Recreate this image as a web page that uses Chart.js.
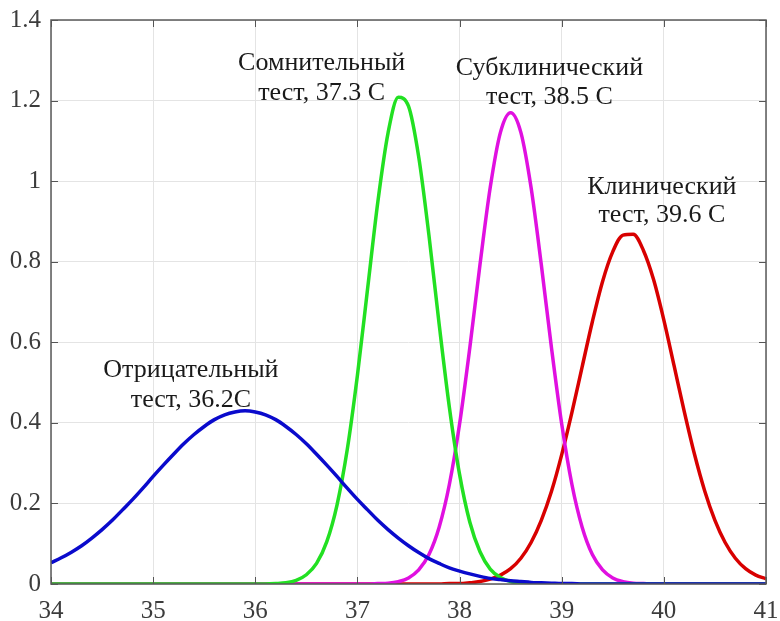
<!DOCTYPE html>
<html>
<head>
<meta charset="utf-8">
<script src="https://cdn.jsdelivr.net/npm/chart.js@4/dist/chart.umd.min.js"></script>
<style>
  html, body { margin: 0; padding: 0; background: #fff; }
</style>
</head>
<body>
<canvas id="chart" width="780" height="621"></canvas>
<script>
// temperature, C
const temps = [
  34.0, 34.1, 34.2, 34.3, 34.4, 34.5, 34.6, 34.7, 34.8, 34.9,
  35.0, 35.1, 35.2, 35.3, 35.4, 35.5, 35.6, 35.7, 35.8, 35.9,
  36.0, 36.1, 36.2, 36.3, 36.4, 36.5, 36.6, 36.7, 36.8, 36.9,
  37.0, 37.1, 37.2, 37.3, 37.4, 37.5, 37.6, 37.7, 37.8, 37.9,
  38.0, 38.1, 38.2, 38.3, 38.4, 38.5, 38.6, 38.7, 38.8, 38.9,
  39.0, 39.1, 39.2, 39.3, 39.4, 39.5, 39.6, 39.7, 39.8, 39.9,
  40.0, 40.1, 40.2, 40.3, 40.4, 40.5, 40.6, 40.7, 40.8, 40.9,
  41.0
];

const negative = [
  0.053, 0.065, 0.079, 0.095, 0.114, 0.135, 0.158, 0.184, 0.210, 0.238,
  0.267, 0.295, 0.322, 0.348, 0.371, 0.391, 0.408, 0.420, 0.427, 0.430,
  0.427, 0.420, 0.408, 0.391, 0.371, 0.348, 0.322, 0.295, 0.267, 0.238,
  0.210, 0.184, 0.158, 0.135, 0.114, 0.095, 0.078, 0.063, 0.051, 0.040,
  0.032, 0.025, 0.019, 0.014, 0.011, 0.008, 0.006, 0.004, 0.003, 0.002,
  0.001, 0.001, 0, 0, 0, 0, 0, 0, 0, 0,
  0, 0, 0, 0, 0, 0, 0, 0, 0, 0,
  0
];

const doubtful = [
  0, 0, 0, 0, 0, 0, 0, 0, 0, 0,
  0, 0, 0, 0, 0, 0, 0, 0, 0, 0,
  0, 0, 0.001, 0.003, 0.009, 0.023, 0.051, 0.105, 0.196, 0.333,
  0.518, 0.734, 0.949, 1.120, 1.208, 1.186, 1.060, 0.866, 0.645, 0.439,
  0.272, 0.154, 0.080, 0.037, 0.016, 0.006, 0.002, 0.001, 0, 0,
  0, 0, 0, 0, 0, 0, 0, 0, 0, 0,
  0, 0, 0, 0, 0, 0, 0, 0, 0, 0,
  0
];

const subclinical = [
  0, 0, 0, 0, 0, 0, 0, 0, 0, 0,
  0, 0, 0, 0, 0, 0, 0, 0, 0, 0,
  0, 0, 0, 0, 0, 0, 0, 0, 0, 0,
  0, 0, 0.001, 0.002, 0.006, 0.015, 0.035, 0.073, 0.141, 0.247,
  0.397, 0.586, 0.793, 0.984, 1.121, 1.170, 1.121, 0.984, 0.793, 0.586,
  0.397, 0.247, 0.141, 0.073, 0.035, 0.015, 0.006, 0.002, 0.001, 0,
  0, 0, 0, 0, 0, 0, 0, 0, 0, 0,
  0
];

const clinical = [
  0, 0, 0, 0, 0, 0, 0, 0, 0, 0,
  0, 0, 0, 0, 0, 0, 0, 0, 0, 0,
  0, 0, 0, 0, 0, 0, 0, 0, 0, 0,
  0, 0, 0, 0, 0, 0, 0, 0, 0, 0.001,
  0.001, 0.003, 0.006, 0.012, 0.022, 0.038, 0.064, 0.103, 0.158, 0.230,
  0.321, 0.426, 0.539, 0.651, 0.751, 0.825, 0.866, 0.868, 0.828, 0.755,
  0.655, 0.542, 0.428, 0.322, 0.231, 0.158, 0.103, 0.064, 0.038, 0.022,
  0.013
];

const xTicks = [34, 35, 36, 37, 38, 39, 40, 41];
const yTicks = [0, 0.2, 0.4, 0.6, 0.8, 1, 1.2, 1.4];

// text labels placed in data coordinates
const noteLines = [
  ["Отрицательный", "тест, 36.2С"],
  ["Сомнительный", "тест, 37.3 С"],
  ["Субклинический", "тест, 38.5 С"],
  ["Клинический", "тест, 39.6 С"]
];
const noteX = [35.37, 36.65, 38.88, 39.98];
const noteY = [0.531, 1.293, 1.281, 0.985];
const noteY2 = [0.457, 1.219, 1.209, 0.916];

const serif = "'Liberation Serif', 'DejaVu Serif', serif";

function toPoints(vals) {
    return vals.map((v, i) => ({ x: temps[i], y: v }));
}

function line(label, vals, color) {
    return {
        label: label,
        data: toPoints(vals),
        borderColor: color,
        borderWidth: 3.5,
        pointRadius: 0,
        fill: false,
        cubicInterpolationMode: "monotone"
    };
}

const boxPlugin = {
    id: "box",
    afterDatasetsDraw(chart) {
        const { ctx, chartArea: a, scales } = chart;
        ctx.save();
        // inward ticks on all four sides
        ctx.strokeStyle = "#555";
        ctx.lineWidth = 1;
        ctx.beginPath();
        xTicks.forEach((t) => {
            const px = Math.round(scales.x.getPixelForValue(t)) + 0.5;
            ctx.moveTo(px, a.bottom); ctx.lineTo(px, a.bottom - 7);
            ctx.moveTo(px, a.top); ctx.lineTo(px, a.top + 7);
        });
        yTicks.forEach((t) => {
            const py = Math.round(scales.y.getPixelForValue(t)) + 0.5;
            ctx.moveTo(a.left, py); ctx.lineTo(a.left + 7, py);
            ctx.moveTo(a.right, py); ctx.lineTo(a.right - 7, py);
        });
        ctx.stroke();
        ctx.lineWidth = 1.5;
        ctx.strokeStyle = "#5a5a5a";
        ctx.strokeRect(a.left, a.top, a.right - a.left, a.bottom - a.top);

        // annotations
        ctx.fillStyle = "#1a1a1a";
        ctx.font = "26px " + serif;
        ctx.textAlign = "center";
        ctx.textBaseline = "middle";
        noteLines.forEach((lines, i) => {
            const px = scales.x.getPixelForValue(noteX[i]);
            ctx.fillText(lines[0], px, scales.y.getPixelForValue(noteY[i]));
            ctx.fillText(lines[1], px, scales.y.getPixelForValue(noteY2[i]));
        });
        ctx.restore();
    }
};

new Chart(document.getElementById("chart"), {
    type: "line",
    data: {
        datasets: [
            line("Отрицательный тест", negative, "#0a0acc"),
            line("Сомнительный тест", doubtful, "#22e022"),
            line("Субклинический тест", subclinical, "#e010e0"),
            line("Клинический тест", clinical, "#d80000")
        ]
    },
    options: {
        responsive: false,
        animation: false,
        layout: { padding: { left: 0, right: 14, top: 20, bottom: 0 } },
        plugins: {
            legend: { display: false },
            tooltip: { enabled: false }
        },
        scales: {
            x: {
                type: "linear",
                min: 34,
                max: 41,
                afterFit: (s) => { s.height = 37; s.paddingLeft = 0; s.paddingRight = 0; },
                afterBuildTicks: (s) => { s.ticks = xTicks.map((v) => ({ value: v })); },
                grid: { color: "#e4e4e4", lineWidth: 1, drawTicks: false },
                border: { display: false },
                ticks: {
                    padding: 12,
                    color: "#3c3c3c",
                    font: { family: serif, size: 25 },
                    callback: (v) => String(v)
                }
            },
            y: {
                min: 0,
                max: 1.4,
                afterFit: (s) => { s.width = 51; s.paddingTop = 0; s.paddingBottom = 0; },
                afterBuildTicks: (s) => { s.ticks = yTicks.map((v) => ({ value: v })); },
                grid: { color: "#e4e4e4", lineWidth: 1, drawTicks: false },
                border: { display: false },
                ticks: {
                    padding: 10,
                    color: "#3c3c3c",
                    font: { family: serif, size: 25 },
                    callback: (v) => String(Math.round(v * 10) / 10)
                }
            }
        }
    },
    plugins: [boxPlugin]
});
</script>
</body>
</html>
